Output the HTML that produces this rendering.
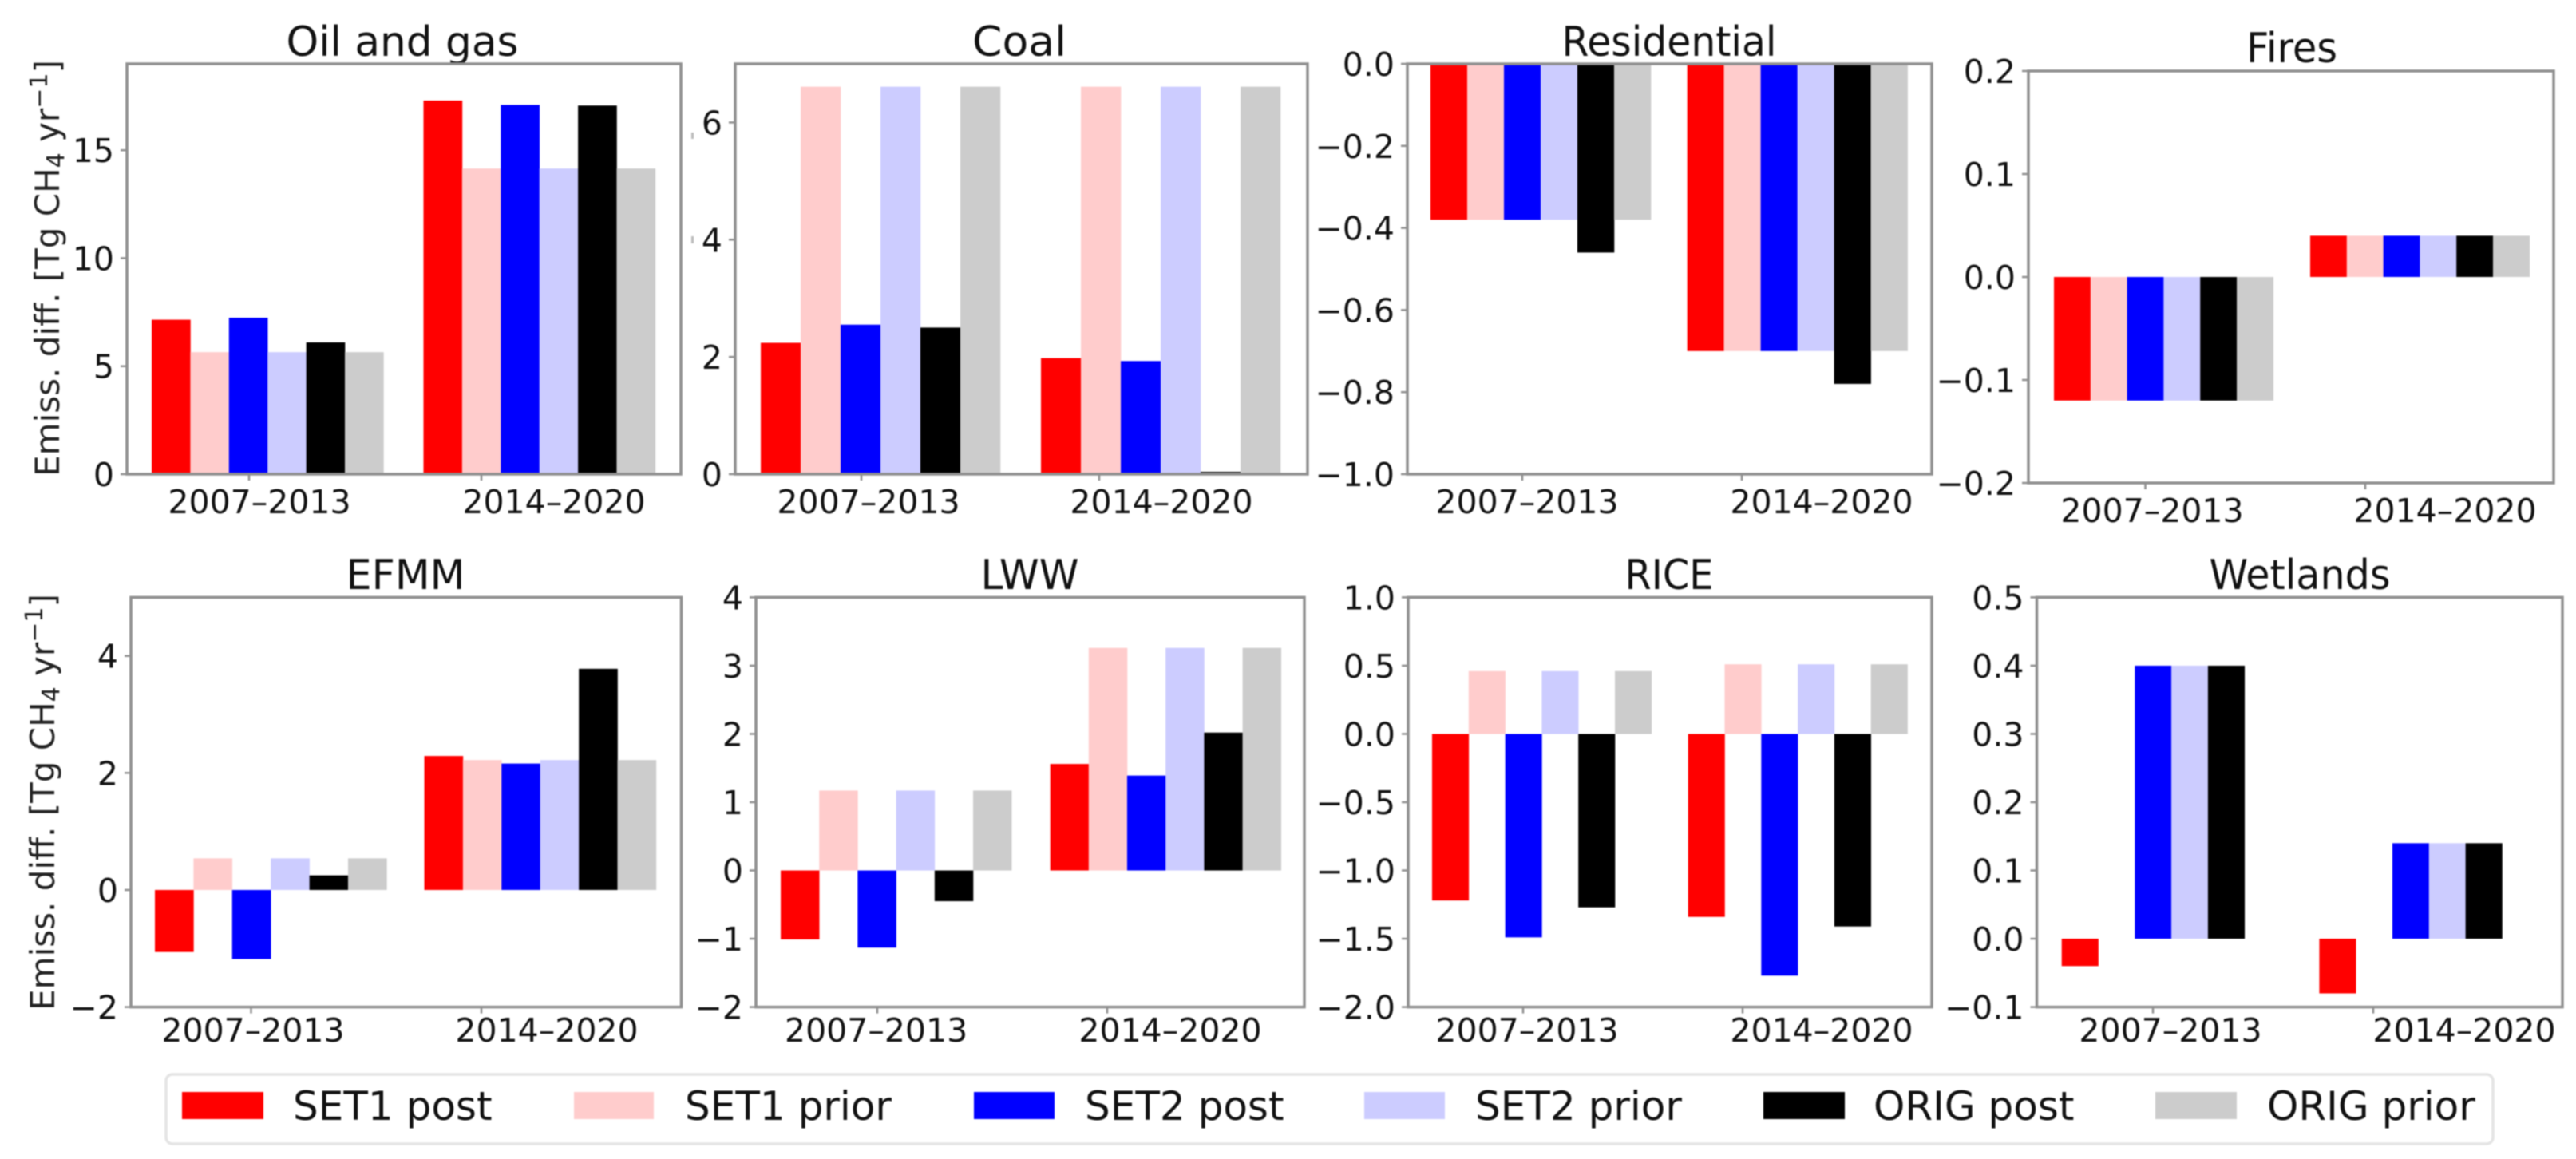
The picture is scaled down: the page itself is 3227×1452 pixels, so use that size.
<!DOCTYPE html>
<html lang="en">
<head>
<meta charset="utf-8">
<title>Emission differences by sector</title>
<style>
html,body{margin:0;padding:0;background:#fff;}
#figure{display:block;width:3227px;height:1452px;filter:blur(0.9px);font-family:"DejaVu Sans","Liberation Sans",sans-serif;fill:#111;}
.spine{fill:none;stroke:#8f8f8f;stroke-width:3.5;}
.tick{stroke:#8f8f8f;stroke-width:2.5;}
.ticklabel{font-size:41px;}
.title{font-size:52px;text-anchor:middle;}
.ylabel{font-size:42px;text-anchor:middle;fill:#222;}
.legend-text{font-size:50px;}
.s0{fill:#ff0000;}.s1{fill:#ffcccc;}.s2{fill:#0000ff;}.s3{fill:#ccccff;}.s4{fill:#000000;}.s5{fill:#cccccc;}
</style>
</head>
<body>
<svg id="figure" xmlns="http://www.w3.org/2000/svg" width="3227" height="1452" viewBox="0 0 3227 1452">
<rect x="0" y="0" width="3227" height="1452" fill="#fff"/>
<text class="ylabel" transform="translate(74,336) rotate(-90)">Emiss. diff. [Tg CH<tspan font-size="30" dy="6">4</tspan><tspan dy="-6"> yr</tspan><tspan font-size="30" dy="-15">−1</tspan><tspan dy="15">]</tspan></text>
<text class="ylabel" transform="translate(68,1005) rotate(-90)">Emiss. diff. [Tg CH<tspan font-size="30" dy="6">4</tspan><tspan dy="-6"> yr</tspan><tspan font-size="30" dy="-15">−1</tspan><tspan dy="15">]</tspan></text>
<rect x="866" y="166" width="3" height="8" fill="#bbb"/>
<rect x="866" y="296" width="3" height="9" fill="#bbb"/>
<g id="panels"></g>
<g>
<rect x="208" y="1346" width="2915" height="87" rx="8" fill="#fff" stroke="#e4e4e4" stroke-width="3.5"/>
<rect class="s0" x="228" y="1368" width="102" height="34"/>
<text class="legend-text" x="367" y="1403">SET1 post</text>
<rect class="s1" x="719" y="1368" width="100" height="34"/>
<text class="legend-text" x="858" y="1403">SET1 prior</text>
<rect class="s2" x="1220" y="1368" width="101" height="34"/>
<text class="legend-text" x="1359" y="1403">SET2 post</text>
<rect class="s3" x="1709" y="1368" width="101" height="34"/>
<text class="legend-text" x="1848" y="1403">SET2 prior</text>
<rect class="s4" x="2209" y="1368" width="102" height="34"/>
<text class="legend-text" x="2347" y="1403">ORIG post</text>
<rect class="s5" x="2700" y="1368" width="102" height="34"/>
<text class="legend-text" x="2840" y="1403">ORIG prior</text>
</g>
</svg>
<script>
const categories = ['2007–2013', '2014–2020'];
const seriesNames = ['SET1 post', 'SET1 prior', 'SET2 post', 'SET2 prior', 'ORIG post', 'ORIG prior'];

const oilGas2007 = [7.15, 5.65, 7.24, 5.65, 6.1, 5.65];
const oilGas2014 = [17.3, 14.15, 17.1, 14.15, 17.07, 14.15];
const oilGasTicks = [0, 5, 10, 15];
const oilGasTickLabels = ['0', '5', '10', '15'];

const coal2007 = [2.24, 6.61, 2.55, 6.61, 2.5, 6.61];
const coal2014 = [1.98, 6.61, 1.93, 6.61, 0.04, 6.61];
const coalTicks = [0, 2, 4, 6];
const coalTickLabels = ['0', '2', '4', '6'];

const residential2007 = [-0.38, -0.38, -0.38, -0.38, -0.46, -0.38];
const residential2014 = [-0.7, -0.7, -0.7, -0.7, -0.78, -0.7];
const residentialTicks = [-1, -0.8, -0.6, -0.4, -0.2, 0];
const residentialTickLabels = ['−1.0', '−0.8', '−0.6', '−0.4', '−0.2', '0.0'];

const fires2007 = [-0.12, -0.12, -0.12, -0.12, -0.12, -0.12];
const fires2014 = [0.04, 0.04, 0.04, 0.04, 0.04, 0.04];
const firesTicks = [-0.2, -0.1, 0, 0.1, 0.2];
const firesTickLabels = ['−0.2', '−0.1', '0.0', '0.1', '0.2'];

const efmm2007 = [-1.06, 0.54, -1.18, 0.54, 0.25, 0.54];
const efmm2014 = [2.29, 2.22, 2.16, 2.22, 3.78, 2.22];
const efmmTicks = [-2, 0, 2, 4];
const efmmTickLabels = ['−2', '0', '2', '4'];

const lww2007 = [-1.01, 1.17, -1.13, 1.17, -0.45, 1.17];
const lww2014 = [1.56, 3.26, 1.39, 3.26, 2.02, 3.26];
const lwwTicks = [-2, -1, 0, 1, 2, 3, 4];
const lwwTickLabels = ['−2', '−1', '0', '1', '2', '3', '4'];

const rice2007 = [-1.22, 0.46, -1.49, 0.46, -1.27, 0.46];
const rice2014 = [-1.34, 0.51, -1.77, 0.51, -1.41, 0.51];
const riceTicks = [-2, -1.5, -1, -0.5, 0, 0.5, 1];
const riceTickLabels = ['−2.0', '−1.5', '−1.0', '−0.5', '0.0', '0.5', '1.0'];

const wetlands2007 = [-0.04, 0, 0.4, 0.4, 0.4, 0];
const wetlands2014 = [-0.08, 0, 0.14, 0.14, 0.14, 0];
const wetlandsTicks = [-0.1, 0, 0.1, 0.2, 0.3, 0.4, 0.5];
const wetlandsTickLabels = ['−0.1', '0.0', '0.1', '0.2', '0.3', '0.4', '0.5'];

const panelSpecs = [
  {id:'oil-and-gas', title:'Oil and gas', titleX:504, titleY:70, titleW:291, l:159, r:853, t:80, b:594, yMin:0, yMax:19, groupX:[190, 530.5], barW:48.4, tickX:[312, 603], labelX:[325, 694], labelY:643, groups:[oilGas2007, oilGas2014], ticks:oilGasTicks, tickLabels:oilGasTickLabels},
  {id:'coal', title:'Coal', titleX:1277, titleY:70, titleW:118, l:921, r:1638, t:80, b:594, yMin:0, yMax:7, groupX:[953, 1304], barW:50, tickX:[1079, 1377], labelX:[1088, 1455], labelY:643, groups:[coal2007, coal2014], ticks:coalTicks, tickLabels:coalTickLabels},
  {id:'residential', title:'Residential', titleX:2091, titleY:70, titleW:269, l:1763, r:2420, t:80, b:594, yMin:-1, yMax:0, groupX:[1792, 2113.6], barW:46, tickX:[1907, 2182], labelX:[1913, 2282], labelY:643, groups:[residential2007, residential2014], ticks:residentialTicks, tickLabels:residentialTickLabels},
  {id:'fires', title:'Fires', titleX:2871, titleY:78, titleW:114, l:2541, r:3199, t:89, b:605, yMin:-0.2, yMax:0.2, groupX:[2573, 2894], barW:45.8, tickX:[2687.5, 2963], labelX:[2696, 3063], labelY:654, groups:[fires2007, fires2014], ticks:firesTicks, tickLabels:firesTickLabels},
  {id:'efmm', title:'EFMM', titleX:508, titleY:738, titleW:149, l:164, r:853.5, t:748.4, b:1261.6, yMin:-2, yMax:5, groupX:[194, 531.5], barW:48.4, tickX:[314.5, 603], labelX:[317, 685], labelY:1305, groups:[efmm2007, efmm2014], ticks:efmmTicks, tickLabels:efmmTickLabels},
  {id:'lww', title:'LWW', titleX:1290, titleY:738, titleW:123, l:947, r:1634, t:748.4, b:1261.6, yMin:-2, yMax:4, groupX:[978, 1315.6], barW:48.2, tickX:[1099, 1387], labelX:[1097.6, 1466], labelY:1305, groups:[lww2007, lww2014], ticks:lwwTicks, tickLabels:lwwTickLabels},
  {id:'rice', title:'RICE', titleX:2091, titleY:738, titleW:111, l:1764, r:2420, t:748.4, b:1261.6, yMin:-2, yMax:1, groupX:[1794, 2114.7], barW:45.8, tickX:[1908, 2183], labelX:[1913, 2282], labelY:1305, groups:[rice2007, rice2014], ticks:riceTicks, tickLabels:riceTickLabels},
  {id:'wetlands', title:'Wetlands', titleX:2881, titleY:738, titleW:227, l:2551.5, r:3210, t:748.4, b:1261.6, yMin:-0.1, yMax:0.5, groupX:[2582.7, 2905.4], barW:45.8, tickX:[2697, 2973], labelX:[2719, 3087], labelY:1305, groups:[wetlands2007, wetlands2014], ticks:wetlandsTicks, tickLabels:wetlandsTickLabels}
];

const SVG_NS = 'http://www.w3.org/2000/svg';
const root = document.getElementById('panels');

function make(parent, tag, attrs, name, interactable) {
  const el = document.createElementNS(SVG_NS, tag);
  for (const key in attrs) el.setAttribute(key, attrs[key]);
  
  
  parent.appendChild(el);
  return el;
}

panelSpecs.forEach(function (p) {
  const yScale = function (v) { return p.b - (v - p.yMin) / (p.yMax - p.yMin) * (p.b - p.t); };
  const xScale = function (cat, s) { return p.groupX[cat] + s * p.barW; };
  const g = make(root, 'g', {}, 'panel-' + p.id, 'false');

  const title = make(g, 'text', {class:'title', x:p.titleX, y:p.titleY, textLength:p.titleW, lengthAdjust:'spacingAndGlyphs'}, 'panel-title-' + p.id, 'false');
  title.textContent = p.title;

  p.groups.forEach(function (values, cat) {
    values.forEach(function (v, s) {
      if (v === 0) return;
      const y0 = yScale(0);
      const y1 = yScale(v);
      make(g, 'rect', {
        class: 's' + s,
        x: xScale(cat, s),
        y: Math.min(y0, y1),
        width: p.barW + 0.3,
        height: Math.abs(y1 - y0)
      }, 'bar-' + p.id + '-' + categories[cat].slice(0, 4) + '-' + seriesNames[s].toLowerCase().replace(' ', '-'), 'false');
    });
  });

  make(g, 'rect', {class:'spine', x:p.l, y:p.t, width:p.r - p.l, height:p.b - p.t}, 'plot-frame-' + p.id, 'false');

  p.ticks.forEach(function (v, i) {
    const y = yScale(v);
    make(g, 'line', {class:'tick', x1:p.l - 8, x2:p.l, y1:y, y2:y}, 'y-tick-' + p.id, 'false');
    const label = make(g, 'text', {class:'ticklabel', x:p.l - 16, y:y + 15, 'text-anchor':'end'}, 'y-tick-label-' + p.id, 'false');
    label.textContent = p.tickLabels[i];
  });

  categories.forEach(function (c, i) {
    make(g, 'line', {class:'tick', x1:p.tickX[i], x2:p.tickX[i], y1:p.b, y2:p.b + 8}, 'x-tick-' + p.id, 'false');
    const label = make(g, 'text', {class:'ticklabel', x:p.labelX[i], y:p.labelY, 'text-anchor':'middle'}, 'x-tick-label-' + p.id, 'false');
    label.textContent = c;
  });
});
</script>
</body>
</html>
